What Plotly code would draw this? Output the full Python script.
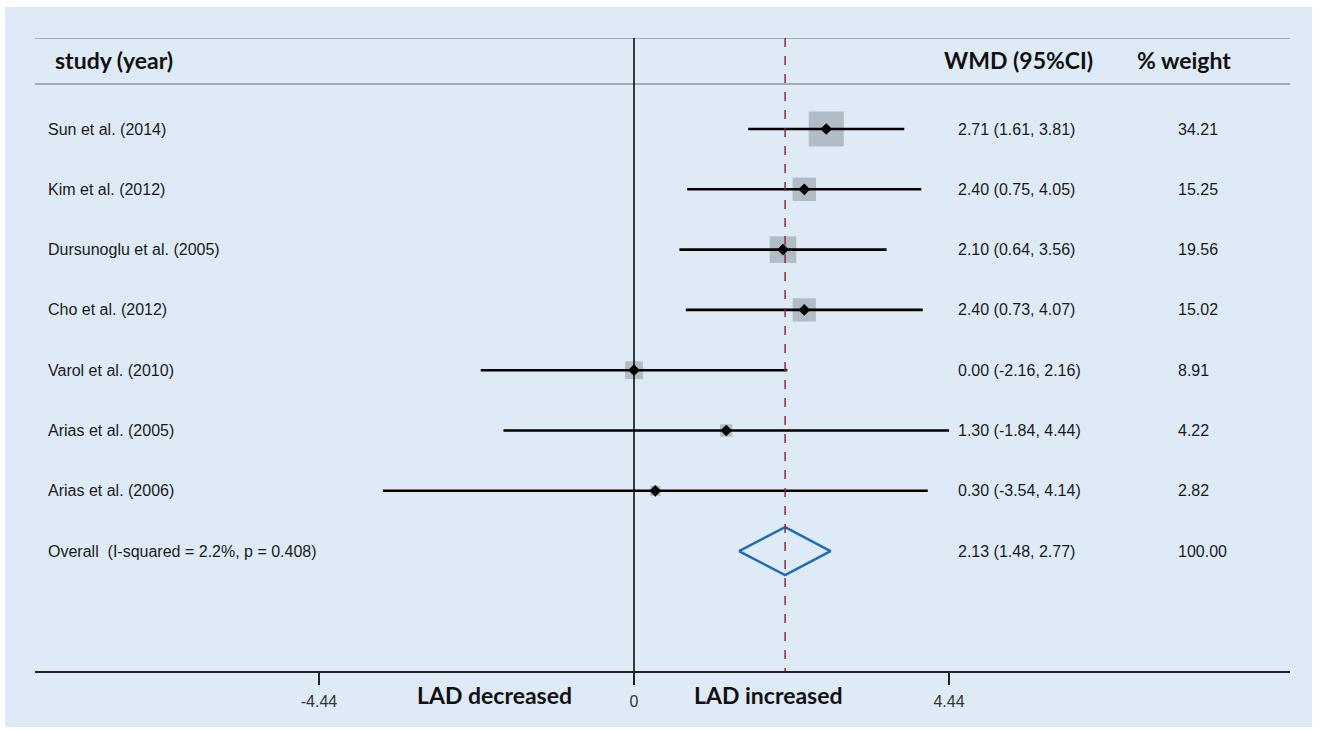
import plotly.graph_objects as go

# Study-level estimates (weighted mean difference in LAD, 95% CI, % weight)
studies = ["Sun et al. (2014)", "Kim et al. (2012)", "Dursunoglu et al. (2005)",
           "Cho et al. (2012)", "Varol et al. (2010)", "Arias et al. (2005)",
           "Arias et al. (2006)"]
wmd = [2.71, 2.40, 2.10, 2.40, 0.00, 1.30, 0.30]
ci_lo = [1.61, 0.75, 0.64, 0.73, -2.16, -1.84, -3.54]
ci_hi = [3.81, 4.05, 3.56, 4.07, 2.16, 4.44, 4.14]
weights = [34.21, 15.25, 19.56, 15.02, 8.91, 4.22, 2.82]

overall_label = "Overall  (I-squared = 2.2%, p = 0.408)"
overall_est = 2.13
overall_lo = 1.48
overall_hi = 2.77
overall_weight = 100.00

tick_vals = [-4.44, 0, 4.44]
tick_text = ["-4.44", "0", "4.44"]

W, H = 1319, 730
TOP, BOTTOM = 38, 671          # pixel rows of header rule and x axis
LEFT, RIGHT = 35, 1290
PX_PER_UNIT = 315 / 4.44
ZERO_PX = 634
x_range = [-(ZERO_PX - LEFT) / PX_PER_UNIT, (RIGHT - ZERO_PX) / PX_PER_UNIT]

row0, row_step = 129, 60.3
rows_y = [row0 + i * row_step for i in range(len(studies))]
overall_y = row0 + len(studies) * row_step

fig = go.Figure()

# weight squares
fig.add_trace(go.Scatter(
    x=wmd, y=rows_y, mode="markers",
    marker=dict(symbol="square", size=[6 * w ** 0.5 for w in weights],
                color="#a0a8b1", line=dict(width=0)),
    hoverinfo="skip", showlegend=False))

# confidence intervals
for lo, hi, y in zip(ci_lo, ci_hi, rows_y):
    fig.add_trace(go.Scatter(x=[lo, hi], y=[y, y], mode="lines",
                             line=dict(color="black", width=2.6),
                             hoverinfo="skip", showlegend=False))

# point estimates
fig.add_trace(go.Scatter(
    x=wmd, y=rows_y, mode="markers",
    marker=dict(symbol="diamond", size=9, color="black"),
    hoverinfo="skip", showlegend=False))

# pooled estimate diamond
half_h = 24
fig.add_trace(go.Scatter(
    x=[overall_lo, overall_est, overall_hi, overall_est, overall_lo],
    y=[overall_y, overall_y - half_h, overall_y, overall_y + half_h, overall_y],
    mode="lines", line=dict(color="#1f6cb6", width=2.5),
    hoverinfo="skip", showlegend=False))

shapes = [
    # panel background
    dict(type="rect", xref="paper", yref="paper",
         x0=5 / W, x1=1312 / W, y0=1 - 727 / H, y1=1 - 7 / H,
         fillcolor="#deebf7", line=dict(width=0), layer="below"),
    # header rules
    dict(type="line", xref="x domain", yref="y", x0=0, x1=1, y0=TOP, y1=TOP,
         line=dict(color="#a3adb8", width=2)),
    dict(type="line", xref="x domain", yref="y", x0=0, x1=1, y0=84, y1=84,
         line=dict(color="#a3adb8", width=2)),
    # null line
    dict(type="line", xref="x", yref="y", x0=0, x1=0, y0=TOP, y1=BOTTOM,
         line=dict(color="black", width=1.5)),
    # pooled estimate reference
    dict(type="line", xref="x", yref="y", x0=overall_est, x1=overall_est,
         y0=TOP, y1=BOTTOM, line=dict(color="#8e2a3c", width=1.5, dash="dash")),
]

annotations = []
body_font = dict(family="Liberation Sans, Arial", size=16, color="#1a1a1a")
head_font = dict(family="Lato, Open Sans", size=23, color="#111111")

def add_text(text, xpx, ypx, font, xanchor="left"):
    annotations.append(dict(text=text, x=xpx / W, y=1 - ypx / H,
                            xref="paper", yref="paper",
                            xanchor=xanchor, yanchor="middle", showarrow=False,
                            font=font))

add_text("<b>study (year)</b>", 53, 60, head_font)
add_text("<b>WMD (95%CI)</b>", 942, 60, head_font)
add_text("<b>% weight</b>", 1135, 60, head_font)

for name, est, lo, hi, wt, y in zip(studies, wmd, ci_lo, ci_hi, weights, rows_y):
    add_text(name, 46, y, body_font)
    add_text(f"{est:.2f} ({lo:.2f}, {hi:.2f})", 956, y, body_font)
    add_text(f"{wt:.2f}", 1176, y, body_font)

add_text(overall_label, 46, overall_y, body_font)
add_text(f"{overall_est:.2f} ({overall_lo:.2f}, {overall_hi:.2f})", 956, overall_y, body_font)
add_text(f"{overall_weight:.2f}", 1176, overall_y, body_font)

add_text("<b>LAD decreased</b>", 494, 695, head_font, xanchor="center")
add_text("<b>LAD increased</b>", 768, 695, head_font, xanchor="center")

fig.update_layout(
    width=W, height=H,
    margin=dict(l=0, r=0, t=0, b=0),
    paper_bgcolor="white", plot_bgcolor="rgba(0,0,0,0)",
    shapes=shapes, annotations=annotations,
    xaxis=dict(domain=[LEFT / W, RIGHT / W], range=x_range,
               showgrid=False, zeroline=False, showline=True,
               linecolor="#222222", linewidth=2,
               tickmode="array", tickvals=tick_vals, ticktext=tick_text,
               ticks="outside", ticklen=12, tickwidth=1.5, tickcolor="#222222",
               ticklabelstandoff=3,
               tickfont=dict(family="Liberation Sans, Arial", size=16, color="#333333"),
               fixedrange=True),
    yaxis=dict(domain=[1 - BOTTOM / H, 1 - TOP / H], range=[BOTTOM, TOP],
               visible=False, fixedrange=True),
)

fig.write_html("out.html")
